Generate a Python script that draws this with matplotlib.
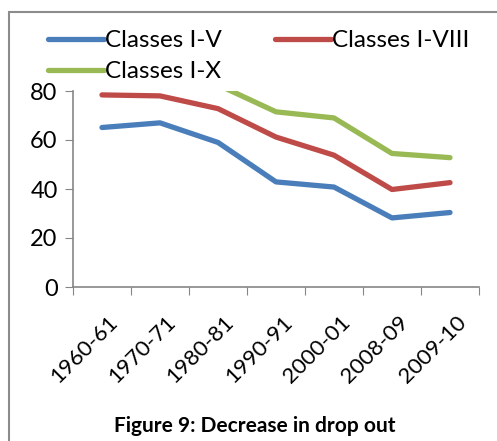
import matplotlib.pyplot as plt
import matplotlib.patches as mpatches
import matplotlib.transforms as mtransforms
import numpy as np

plt.rcParams['font.family'] = ['Lato', 'DejaVu Sans']

years = ['1960-61', '1970-71', '1980-81', '1990-91', '2000-01', '2008-09', '2009-10']
classes_1_5 = [65.1, 67.0, 59.0, 42.9, 40.8, 28.2, 30.4]
classes_1_8 = [78.4, 78.0, 72.8, 61.2, 53.8, 39.8, 42.6]
classes_1_10 = [np.nan, np.nan, 82.5, 71.5, 69.0, 54.5, 52.8]

fig = plt.figure(figsize=(4.97, 4.41), dpi=100)
ax = fig.add_axes([73/497, 1-287/441, (479-73)/497, (287-91)/441])

x = np.arange(len(years))
l1, = ax.plot(x, classes_1_5, color='#4A7EBB', lw=3.8, solid_capstyle='round', label='Classes I-V')
l2, = ax.plot(x, classes_1_8, color='#BE4B48', lw=3.8, solid_capstyle='round', label='Classes I-VIII')
l3, = ax.plot(x, classes_1_10, color='#98B954', lw=3.8, solid_capstyle='round', label='Classes I-X')

ax.set_xlim(-0.5, len(years) - 0.5)
ax.set_ylim(0, 80)
ax.set_yticks([0, 20, 40, 60, 80])
ax.set_xticks(np.arange(-0.5, len(years)))
ax.set_xticklabels([])
ax.set_xticks(x, minor=True)
ax.set_xticklabels(years, minor=True, rotation=45, ha='right', rotation_mode='anchor', fontsize=16)
ax.tick_params(axis='x', which='minor', length=0, pad=18)
ax.tick_params(axis='both', which='major', length=6, color='#868686', labelsize=17)
ax.tick_params(axis='y', pad=5)
shift = mtransforms.ScaledTranslation(6/100, 0, fig.dpi_scale_trans)
for lab in ax.get_xticklabels(minor=True):
    lab.set_transform(lab.get_transform() + shift)
for s in ['top', 'right']:
    ax.spines[s].set_visible(False)
for s in ['left', 'bottom']:
    ax.spines[s].set_color('#868686')
    ax.spines[s].set_linewidth(1.2)

fig.legend([l1, l3, l2], [l1.get_label(), l3.get_label(), l2.get_label()],
           loc='upper left', bbox_to_anchor=(48/497, 1-30/441), ncol=2, frameon=False,
           fontsize=17.5, handlelength=2.3, handletextpad=0.05, columnspacing=2.2,
           labelspacing=0.42, borderpad=0, borderaxespad=0)

fig.text(255/497, 1-426/441, 'Figure 9: Decrease in drop out', ha='center', va='center',
         fontsize=15, fontweight='bold')

fig.patches.append(mpatches.Rectangle((9/497, -0.1), 1.2, 1+0.1-12/441, transform=fig.transFigure,
                                      fill=False, edgecolor='#8C8C8C', lw=1.5))

fig.savefig('out.png', dpi=100)
